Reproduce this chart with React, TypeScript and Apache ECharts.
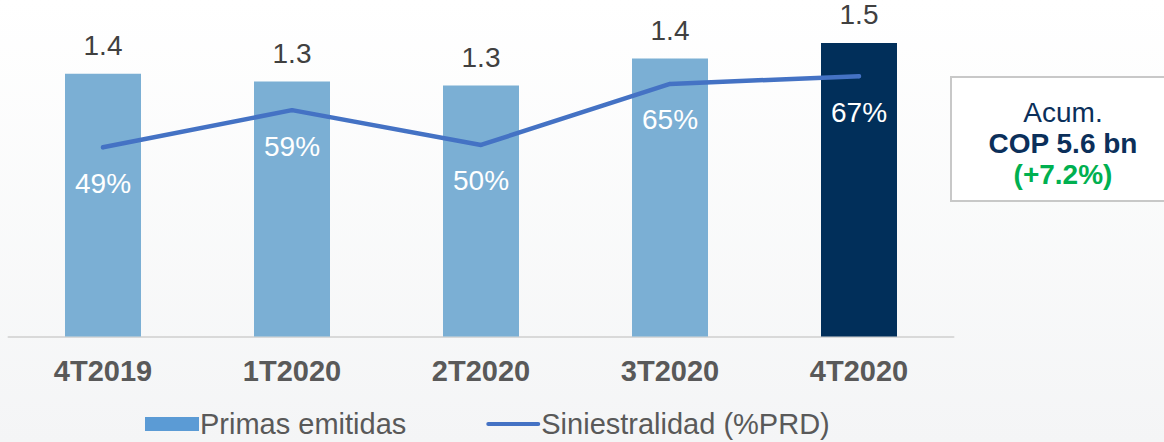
import React, { useEffect, useRef } from 'react';
import * as echarts from 'echarts';

const categories = ['4T2019', '1T2020', '2T2020', '3T2020', '4T2020'];
const primasEmitidas = [1.36, 1.32, 1.3, 1.44, 1.52];
const siniestralidad = [49.0, 58.6, 49.6, 65.4, 67.4];
const seriesNames = ['Primas emitidas', 'Siniestralidad (%PRD)'];
const summaryLines = ['Acum.', 'COP 5.6 bn', '(+7.2%)'];

const FONT = '"Liberation Sans", Arial, Helvetica, sans-serif';
const LIGHT_BAR = '#7BAFD4';
const DARK_BAR = '#012F5A';
const LINE = '#4472C4';

export default function App() {
  const ref = useRef<HTMLDivElement>(null);

  useEffect(() => {
    if (!ref.current) return;
    const chart = echarts.init(ref.current, null, { renderer: 'svg' });
    const last = categories.length - 1;
    chart.setOption({
      animation: false,
      backgroundColor: {
        type: 'linear', x: 0, y: 0, x2: 0, y2: 1,
        colorStops: [
          { offset: 0, color: '#FFFFFF' },
          { offset: 1, color: '#F4F5F6' },
        ],
      },
      textStyle: { fontFamily: FONT },
      grid: { left: 8.5, right: 210.5, top: 27.5, bottom: 105.5 },
      legend: {
        left: 145,
        top: 408,
        padding: 0,
        itemWidth: 54,
        itemHeight: 14,
        itemGap: 80,
        textStyle: { fontSize: 29, lineHeight: 32, color: '#595959', fontFamily: FONT, padding: [0, 0, 0, -4] },
        data: [
          { name: seriesNames[0], icon: 'rect', itemStyle: { color: '#5B9BD5' } },
          { name: seriesNames[1], icon: 'path://M2,0 L52,0 A2,2 0 0 1 52,4 L2,4 A2,2 0 0 1 2,0 Z' },
        ],
      },
      xAxis: {
        type: 'category',
        data: categories,
        axisTick: { show: false },
        axisLine: { lineStyle: { color: '#D9D9D9', width: 2 } },
        axisLabel: {
          fontSize: 29,
          fontWeight: 'bold',
          color: '#595959',
          margin: 20,
          fontFamily: FONT,
        },
      },
      yAxis: [
        { type: 'value', min: 0, max: 1.6, show: false, splitLine: { show: false } },
        { type: 'value', min: 0, max: 80, show: false, splitLine: { show: false } },
      ],
      series: [
        {
          name: seriesNames[0],
          type: 'bar',
          barWidth: 76,
          data: primasEmitidas,
          itemStyle: {
            color: (p: any) => (p.dataIndex === last ? DARK_BAR : LIGHT_BAR),
          },
          label: {
            show: true,
            position: 'top',
            distance: 14,
            fontSize: 28,
            color: '#404040',
            fontFamily: FONT,
            formatter: (p: any) => Number(p.value).toFixed(1),
          },
          z: 2,
        },
        {
          name: seriesNames[1],
          type: 'line',
          yAxisIndex: 1,
          data: siniestralidad,
          symbol: 'circle',
          symbolSize: 4,
          itemStyle: { color: LINE },
          lineStyle: { color: LINE, width: 4.5, cap: 'round', join: 'round' },
          label: {
            show: true,
            position: 'bottom',
            distance: 20,
            fontSize: 28,
            color: '#FFFFFF',
            fontFamily: FONT,
            formatter: (p: any) => Math.round(Number(p.value)) + '%',
          },
          z: 3,
        },
      ],
      graphic: [
        {
          type: 'rect',
          shape: { x: 951, y: 77, width: 240, height: 124 },
          style: { fill: '#FFFFFF', stroke: '#C8C8C8', lineWidth: 2 },
          z: 10,
        },
        {
          type: 'text',
          x: 1063,
          y: 112,
          style: {
            text: summaryLines[0],
            textAlign: 'center',
            textVerticalAlign: 'middle',
            font: `28px ${FONT}`,
            fill: '#0B2F5A',
          },
          z: 11,
        },
        {
          type: 'text',
          x: 1063,
          y: 143,
          style: {
            text: summaryLines[1],
            textAlign: 'center',
            textVerticalAlign: 'middle',
            font: `bold 28px ${FONT}`,
            fill: '#0B2F5A',
          },
          z: 11,
        },
        {
          type: 'text',
          x: 1063,
          y: 174,
          style: {
            text: summaryLines[2],
            textAlign: 'center',
            textVerticalAlign: 'middle',
            font: `bold 28px ${FONT}`,
            fill: '#00B050',
          },
          z: 11,
        },
      ],
    });
    return () => chart.dispose();
  }, []);

  return (
    <div
      ref={ref}
      style={{ position: 'fixed', left: 0, top: 0, width: 1164, height: 442 }}
    />
  );
}
